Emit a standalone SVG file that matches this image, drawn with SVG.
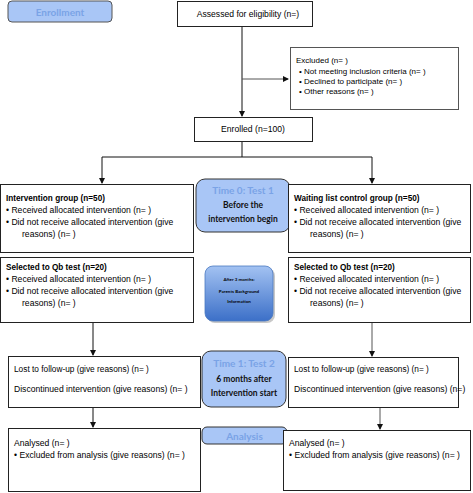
<svg xmlns="http://www.w3.org/2000/svg" width="473" height="493" viewBox="0 0 473 493">
<style>
.box{fill:#fff;stroke:#222;stroke-width:1}
.tbox{fill:#a9c6f6;stroke:#333;stroke-width:1}
.t{font-family:"Liberation Sans",Arial,sans-serif;font-size:8.6px;fill:#000}
.b{font-weight:bold;font-size:8.2px}
.c{font-family:Lato,"Open Sans",sans-serif;font-size:8.5px;font-weight:bold;fill:#111;text-anchor:middle}
.h{font-family:Lato,"Open Sans",sans-serif;font-size:10px;font-weight:bold;fill:#7aa3e6;text-anchor:middle}
.s{font-family:Lato,"Open Sans",sans-serif;font-size:4.5px;font-weight:bold;fill:#000;text-anchor:middle}
.ln{stroke:#111;stroke-width:1;fill:none}
.g{stroke:#555}
</style>
<defs>
<marker id="ah" markerWidth="6" markerHeight="6" refX="5" refY="3" orient="auto" markerUnits="userSpaceOnUse">
<path d="M0,0 L6,3 L0,6 z" fill="#111"/>
</marker>
<linearGradient id="gr" x1="0" y1="0" x2="0" y2="1">
<stop offset="0" stop-color="#a3c2f2"/>
<stop offset="1" stop-color="#3c70c8"/>
</linearGradient>
</defs>
<g id="connectors">
<path class="ln" d="M242,27 V116" marker-end="url(#ah)"/>
<path class="ln g" d="M242,79 H288" marker-end="url(#ah)"/>
<path class="ln" d="M242,141 V157"/>
<path class="ln" d="M102,157 H372"/>
<path class="ln" d="M102,157 V183" marker-end="url(#ah)"/>
<path class="ln" d="M372,157 V183" marker-end="url(#ah)"/>
<path class="ln" d="M93,322 V355" marker-end="url(#ah)"/>
<path class="ln g" d="M372,322 V356" marker-end="url(#ah)"/>
<path class="ln" d="M93,407 V427" marker-end="url(#ah)"/>
<path class="ln g" d="M380,407 V429" marker-end="url(#ah)"/>
</g>
<g id="enrollment">
<rect class="tbox" x="8" y="1" width="104" height="21" rx="4" style="stroke:#555"/>
<text class="h" x="60" y="15.5">Enrollment</text>
</g>
<g id="assessed">
<rect class="box" x="177.5" y="1.5" width="135" height="25"/>
<text class="t" x="248" y="17" text-anchor="middle">Assessed for eligibility (n=)</text>
</g>
<g id="excluded">
<rect class="box" x="290.5" y="47.5" width="168" height="62" style="stroke:#555"/>
<text class="t" x="296" y="63" style="font-size:8px">Excluded (n=  )</text>
<text class="t" x="299" y="74" style="font-size:8px">•  Not meeting inclusion criteria (n=  )</text>
<text class="t" x="299" y="84" style="font-size:8px">•  Declined to participate (n=  )</text>
<text class="t" x="299" y="94" style="font-size:8px">•  Other reasons (n=  )</text>
</g>
<g id="enrolled">
<rect class="box" x="194.5" y="117.5" width="118" height="24"/>
<text class="t" x="253" y="132" text-anchor="middle">Enrolled (n=100)</text>
</g>
<g id="time0">
<rect class="tbox" x="196" y="179" width="94" height="53" rx="9"/>
<text class="h" x="243" y="194">Time 0: Test 1</text>
<text class="c" x="243" y="208">Before the</text>
<text class="c" x="243" y="222">intervention begin</text>
</g>
<g id="intervention">
<rect class="box" x="0.5" y="184.5" width="193" height="68"/>
<text class="t b" x="6" y="201">Intervention group (n=50)</text>
<text class="t" x="6" y="213">•  Received allocated intervention (n=  )</text>
<text class="t" x="6" y="225">•  Did not receive allocated intervention (give</text>
<text class="t" x="22" y="237">reasons) (n=  )</text>
</g>
<g id="waiting">
<rect class="box" x="288.5" y="184.5" width="182" height="68"/>
<text class="t b" x="294" y="201">Waiting list control group (n=50)</text>
<text class="t" x="294" y="213">•  Received allocated intervention (n=  )</text>
<text class="t" x="294" y="225">•  Did not receive allocated intervention (give</text>
<text class="t" x="310" y="237">reasons) (n=  )</text>
</g>
<g id="selected-left">
<rect class="box" x="0.5" y="257.5" width="193" height="65"/>
<text class="t b" x="6" y="270">Selected to Qb test (n=20)</text>
<text class="t" x="6" y="282">•  Received allocated intervention (n=  )</text>
<text class="t" x="6" y="294">•  Did not receive allocated intervention (give</text>
<text class="t" x="22" y="306">reasons) (n=  )</text>
</g>
<g id="selected-right">
<rect class="box" x="288.5" y="257.5" width="182" height="65"/>
<text class="t b" x="294" y="270">Selected to Qb test (n=20)</text>
<text class="t" x="294" y="282">•  Received allocated intervention (n=  )</text>
<text class="t" x="294" y="294">•  Did not receive allocated intervention (give</text>
<text class="t" x="310" y="306">reasons) (n=  )</text>
</g>
<g id="after3">
<rect x="207" y="268" width="68" height="55" rx="8" fill="#222" opacity="0.25"/>
<rect x="205" y="266" width="68" height="55" rx="8" fill="url(#gr)" stroke="#4a78c0" stroke-width="0.8"/>
<text class="s" x="239" y="281">After 3 months:</text>
<text class="s" x="239" y="293">Parents Background</text>
<text class="s" x="239" y="303">Information</text>
</g>
<g id="lost-left">
<rect class="box" x="8.5" y="356.5" width="192" height="51"/>
<text class="t" x="14" y="372" style="font-size:8.3px">Lost to follow-up (give reasons) (n=  )</text>
<text class="t" x="14" y="392">Discontinued intervention (give reasons) (n=  )</text>
</g>
<g id="time1">
<rect class="tbox" x="202" y="351" width="84" height="56" rx="9"/>
<text class="h" x="244" y="367">Time 1: Test 2</text>
<text class="c" x="244" y="382">6 months after</text>
<text class="c" x="244" y="396">Intervention start</text>
</g>
<g id="lost-right">
<rect class="box" x="288.5" y="357.5" width="170" height="50"/>
<text class="t" x="294" y="372" style="font-size:8.3px">Lost to follow-up (give reasons) (n=  )</text>
<text class="t" x="294" y="392">Discontinued intervention (give reasons) (n=)</text>
</g>
<g id="analysis">
<rect class="tbox" x="202" y="427" width="85" height="17" rx="5"/>
<text class="h" x="244.5" y="439.5">Analysis</text>
</g>
<g id="analysed-left">
<rect class="box" x="8.5" y="428.5" width="192" height="63"/>
<text class="t" x="14" y="446">Analysed  (n=  )</text>
<text class="t" x="14" y="458">•  Excluded from analysis (give reasons) (n=  )</text>
</g>
<g id="analysed-right">
<rect class="box" x="283.5" y="430.5" width="187" height="60"/>
<text class="t" x="289" y="446">Analysed  (n=  )</text>
<text class="t" x="289" y="458">•  Excluded from analysis (give reasons) (n=  )</text>
</g>
</svg>
